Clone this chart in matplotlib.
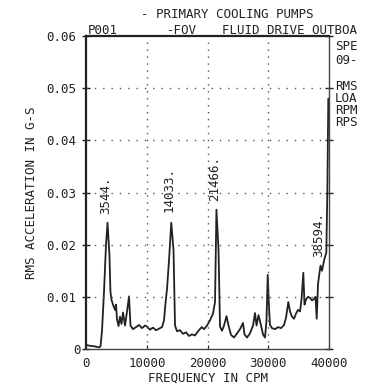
"""Vibration spectrum plot: RMS acceleration vs. frequency."""

import matplotlib
matplotlib.use('Agg')
import matplotlib.pyplot as plt
import matplotlib.transforms as mtransforms

# spectrum trace, frequency in CPM and RMS acceleration in G-S
freq_cpm = [
    0, 658, 1481, 2140, 2387, 2634, 2963, 3127, 3292, 3544, 3700, 3860, 4020,
    4180, 4444, 4773, 4938, 5103, 5350, 5597, 5843, 6090, 6420, 6749, 7078,
    7325, 7736, 8230, 8724, 9218, 9711, 10041, 10534, 11028, 11522, 12016,
    12510, 12839, 13086, 13333, 13662, 14033, 14403, 14649, 14979, 15472,
    15966, 16460, 16954, 17448, 17941, 18435, 19044, 19423, 19917, 20410,
    20904, 21233, 21466, 21810, 22056, 22386, 22715, 23127, 23456, 23867,
    24361, 24855, 25348, 25842, 26089, 26501, 26994, 27488, 27817, 28064,
    28394, 28805, 29134, 29463, 29710, 29908, 30122, 30286, 30616, 31109,
    31603, 32097, 32591, 32920, 33299, 33579, 33908, 34237, 34566, 34895,
    35224, 35471, 35767, 35965, 36212, 36541, 36870, 37199, 37528, 37775,
    37973, 38187, 38594, 38846, 39225, 39554, 39719, 39883, 40000,
]
rms_gs = [
    0.0008, 0.0006, 0.0005, 0.0003, 0.0005, 0.0035, 0.0110, 0.0155, 0.0200,
    0.0242, 0.0210, 0.0180, 0.0110, 0.0095, 0.0085, 0.0075, 0.0085, 0.0057,
    0.0044, 0.0062, 0.0048, 0.0070, 0.0045, 0.0072, 0.0101, 0.0045, 0.0038,
    0.0042, 0.0046, 0.0040, 0.0045, 0.0043, 0.0037, 0.0041, 0.0036, 0.0039,
    0.0042, 0.0055, 0.0088, 0.0115, 0.0170, 0.0242, 0.0190, 0.0045, 0.0034,
    0.0036, 0.0029, 0.0032, 0.0025, 0.0028, 0.0026, 0.0034, 0.0042, 0.0038,
    0.0045, 0.0055, 0.0068, 0.0090, 0.0267, 0.0190, 0.0043, 0.0035, 0.0045,
    0.0063, 0.0045, 0.0027, 0.0022, 0.0030, 0.0038, 0.0050, 0.0028, 0.0022,
    0.0030, 0.0045, 0.0069, 0.0045, 0.0065, 0.0045, 0.0028, 0.0022, 0.0055,
    0.0142, 0.0080, 0.0046, 0.0040, 0.0038, 0.0042, 0.0040, 0.0046, 0.0060,
    0.0090, 0.0072, 0.0062, 0.0058, 0.0068, 0.0075, 0.0072, 0.0095, 0.0146,
    0.0085, 0.0095, 0.0100, 0.0098, 0.0093, 0.0096, 0.0100, 0.0058, 0.0125,
    0.0160, 0.0150, 0.0172, 0.0185, 0.0300, 0.0480, 0.0480,
]

# labelled peaks: frequency and height of the label's lower end
peak_freqs = [3544, 14033, 21466, 38594]
peak_label_y = [0.0258, 0.0263, 0.0283, 0.0177]

x_ticks = [0, 10000, 20000, 30000, 40000]
y_ticks = [0, 0.01, 0.02, 0.03, 0.04, 0.05, 0.06]
y_tick_labels = ['0', '0.01', '0.02', '0.03', '0.04', '0.05', '0.06']

side_notes = [('SPE', 47), ('09-', 60), ('RMS', 86), ('LOA', 98),
              ('RPM', 110), ('RPS', 122)]

INK = '#222222'
plt.rcParams['font.family'] = ['DejaVu Sans Mono']
plt.rcParams['font.size'] = 9.0

fig = plt.figure(figsize=(3.66, 3.85), dpi=100)
ax = fig.add_axes([0.235, 0.0935, 0.664, 0.8130])

ax.plot(freq_cpm, rms_gs, color=INK, lw=1.3)

ax.set_xlim(0, 40000)
ax.set_ylim(0, 0.06)

# dotted grid inside the frame
for xv in x_ticks[1:-1]:
    ax.axvline(xv, color='#555555', lw=1.0, ls=(0, (1, 4)))
for yv in y_ticks[1:-1]:
    ax.axhline(yv, color='#555555', lw=1.0, ls=(0, (1, 5)))

ax.set_xticks(x_ticks)
ax.set_xticklabels([str(v) for v in x_ticks])
ax.set_yticks(y_ticks)
ax.set_yticklabels(y_tick_labels)
ax.tick_params(axis='y', direction='inout', length=6, width=1.0, color=INK,
               right=True, pad=4, labelcolor=INK)
ax.tick_params(axis='x', direction='in', length=3, width=0.8, color=INK,
               pad=6, labelcolor=INK)
# the zero label sits closer to the axis
zero_lbl = ax.get_yticklabels()[0]
zero_lbl.set_transform(zero_lbl.get_transform() +
                       mtransforms.ScaledTranslation(4 / 100, 0, fig.dpi_scale_trans))

for side in ['left', 'top']:
    ax.spines[side].set_linewidth(1.6)
    ax.spines[side].set_color(INK)
for side in ['right', 'bottom']:
    ax.spines[side].set_linewidth(1.0)
    ax.spines[side].set_color('#444444')

for f, yl in zip(peak_freqs, peak_label_y):
    ax.text(f - 350, yl, f'{f}.', rotation=90, ha='center', va='bottom',
            color=INK)

ax.set_xlabel('FREQUENCY IN CPM', color=INK, labelpad=1)
ax.set_ylabel('RMS ACCELERATION IN G-S', color=INK, labelpad=6)

# header lines above the frame
fig.text(227 / 366, 1 - 15 / 385, '- PRIMARY COOLING PUMPS', ha='center',
         va='center', color=INK)
fig.text(88 / 366, 1 - 31 / 385, 'P001', ha='left', va='center', color=INK)
fig.text(167 / 366, 1 - 31 / 385, '-FOV', ha='left', va='center', color=INK)
fig.text(222 / 366, 1 - 31 / 385, 'FLUID DRIVE OUTBOA', ha='left',
         va='center', color=INK)
for txt, py in side_notes:
    fig.text(335 / 366, 1 - py / 385, txt, ha='left', va='center', color=INK)

fig.savefig('out.png', dpi=100, facecolor='white')
